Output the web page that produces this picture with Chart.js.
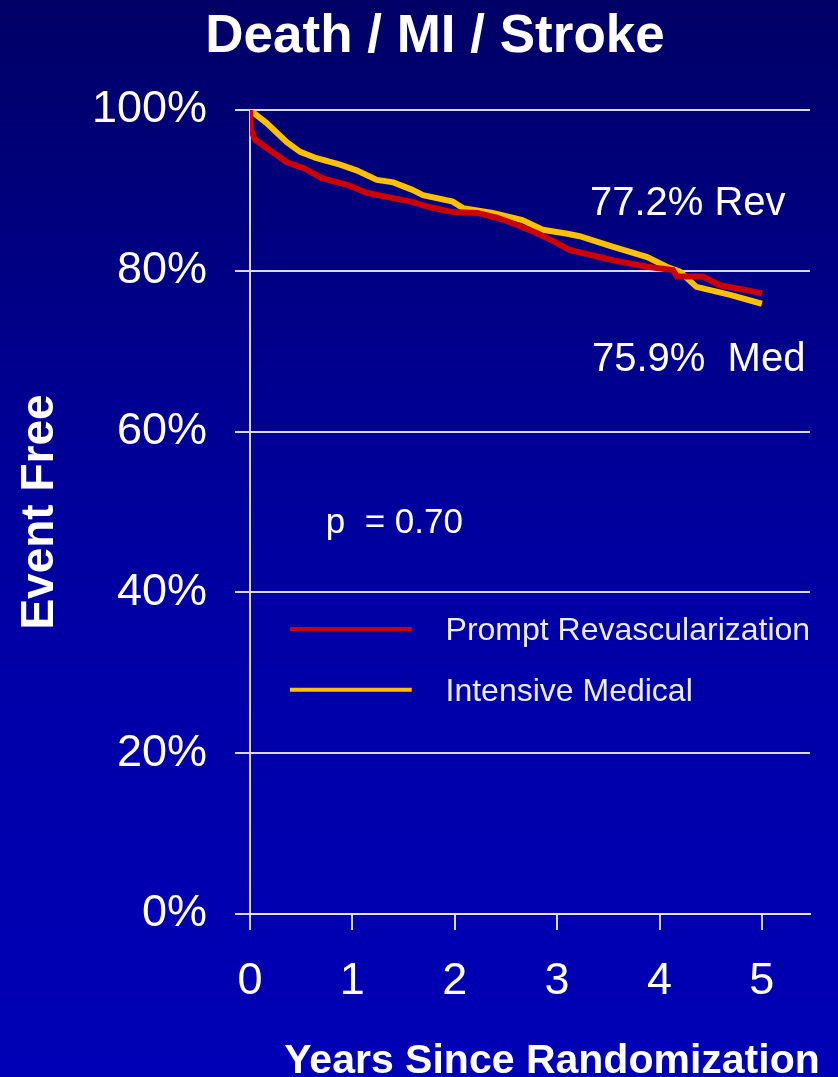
<!DOCTYPE html>
<html>
<head>
<meta charset="utf-8">
<title>Death / MI / Stroke</title>
<script src="https://cdn.jsdelivr.net/npm/chart.js@4/dist/chart.umd.min.js"></script>
<style>
  html, body { margin: 0; padding: 0; background: #000066; }
  #wrap { width: 838px; height: 1077px; }
</style>
</head>
<body>
<div id="wrap"><canvas id="chart" width="838" height="1077"></canvas></div>
<script>
// Kaplan-Meier event-free survival, years since randomization
const revYears = [0, 0.01, 0.05, 0.195, 0.36, 0.52, 0.71, 0.948, 1.14, 1.37, 1.57, 1.76, 1.98, 2.22, 2.41, 2.61, 2.80, 2.99, 3.12, 3.32, 3.55, 3.88, 4.13, 4.17, 4.42, 4.59, 4.85, 5.0];
const revPct   = [100, 97.5, 96.3, 95.0, 93.5, 92.8, 91.5, 90.7, 89.7, 89.1, 88.6, 87.9, 87.3, 87.2, 86.6, 85.7, 84.7, 83.5, 82.6, 82.0, 81.3, 80.5, 80.1, 79.3, 79.3, 78.2, 77.6, 77.2];

const medYears = [0, 0.16, 0.36, 0.49, 0.65, 0.88, 1.04, 1.24, 1.40, 1.58, 1.69, 1.98, 2.08, 2.37, 2.66, 2.86, 3.10, 3.22, 3.54, 3.88, 4.07, 4.20, 4.36, 4.69, 5.0];
const medPct   = [100, 98.4, 96.0, 94.8, 94.0, 93.2, 92.5, 91.3, 91.0, 90.1, 89.4, 88.6, 87.8, 87.2, 86.3, 85.1, 84.6, 84.3, 83.0, 81.7, 80.5, 79.9, 78.0, 77.0, 75.9];

const seriesNames = ['Prompt Revascularization', 'Intensive Medical'];
const finalRev = 77.2;
const finalMed = 75.9;
const pValue = '0.70';

const yTickValues = [0, 20, 40, 60, 80, 100];
const xTickValues = [0, 1, 2, 3, 4, 5];

const toPoints = (xs, ys) => xs.map((x, i) => ({ x: x, y: ys[i] }));

const FONT = "'Liberation Sans', Arial, sans-serif";
const gridColor = 'rgba(228,228,250,0.95)';

// Background gradient behind the whole canvas
const backdrop = {
  id: 'backdrop',
  beforeDraw(chart) {
    const { ctx, width, height } = chart;
    const g = ctx.createLinearGradient(0, 0, 0, height);
    g.addColorStop(0, '#000066');
    g.addColorStop(0.2, '#00007e');
    g.addColorStop(0.47, '#00009c');
    g.addColorStop(0.62, '#0000a8');
    g.addColorStop(1, '#0000b6');
    ctx.save();
    ctx.fillStyle = g;
    ctx.fillRect(0, 0, width, height);
    ctx.restore();
  }
};

// Title, x-axis caption, end-point labels, p value and legend
const annotations = {
  id: 'annotations',
  afterDraw(chart) {
    const { ctx } = chart;
    const xs = chart.scales.x, ys = chart.scales.y;
    const px = v => xs.getPixelForValue(v);
    const py = v => ys.getPixelForValue(v);
    ctx.save();
    ctx.fillStyle = '#ffffff';
    ctx.textBaseline = 'alphabetic';

    ctx.font = 'bold 53px ' + FONT;
    ctx.textAlign = 'center';
    ctx.fillText('Death / MI / Stroke', 435, 52);

    ctx.font = 'bold 41px ' + FONT;
    ctx.fillText('Years Since Randomization', 552, 1073);

    ctx.textAlign = 'left';
    ctx.font = '40px ' + FONT;
    ctx.fillText(finalRev.toFixed(1) + '% Rev', px(3.32), py(87.0));
    ctx.fillText(finalMed.toFixed(1) + '%  Med', px(3.34), py(67.5));

    ctx.font = '35px ' + FONT;
    ctx.fillText('p  = ' + pValue, px(0.74), py(47.4));

    // legend
    const rows = [35.45, 27.9];
    chart.data.datasets.forEach((ds, i) => {
      const y = py(rows[i]);
      ctx.strokeStyle = ds.borderColor;
      ctx.lineWidth = 4;
      ctx.beginPath();
      ctx.moveTo(px(0.39), y);
      ctx.lineTo(px(1.58), y);
      ctx.stroke();
      ctx.fillStyle = '#ececff';
      ctx.font = '32px ' + FONT;
      ctx.fillText(ds.label, px(1.91), y + 11);
    });
    ctx.restore();
  }
};

const keepTicks = wanted => scale => {
  scale.ticks = wanted.map(v => ({ value: v }));
};

new Chart(document.getElementById('chart'), {
  type: 'line',
  data: {
    datasets: [
      {
        label: seriesNames[0],
        data: toPoints(revYears, revPct),
        borderColor: '#cc0000',
        borderWidth: 6,
        pointRadius: 0,
        tension: 0,
        fill: false
      },
      {
        label: seriesNames[1],
        data: toPoints(medYears, medPct),
        borderColor: '#ffc000',
        borderWidth: 6,
        pointRadius: 0,
        tension: 0,
        fill: false
      }
    ]
  },
  options: {
    responsive: false,
    devicePixelRatio: 1,
    animation: false,
    layout: { padding: { top: 110, left: 0, right: 28, bottom: 0 } },
    plugins: {
      legend: { display: false },
      title: { display: false },
      tooltip: { enabled: false }
    },
    scales: {
      x: {
        type: 'linear',
        min: 0,
        max: 5.47,
        afterBuildTicks: keepTicks(xTickValues),
        afterFit: s => { s.height = 163; },
        grid: {
          drawOnChartArea: false,
          drawTicks: true,
          tickLength: 16,
          color: gridColor,
          lineWidth: 2
        },
        border: { display: true, color: gridColor, width: 2 },
        ticks: {
          color: '#ffffff',
          font: { family: FONT, size: 45 },
          padding: 25,
          maxRotation: 0,
          callback: v => String(v)
        },
        title: { display: false }
      },
      y: {
        type: 'linear',
        min: 0,
        max: 100,
        afterBuildTicks: keepTicks(yTickValues),
        afterFit: s => { s.width = 250; },
        grid: {
          drawOnChartArea: true,
          drawTicks: true,
          tickLength: 15,
          color: gridColor,
          lineWidth: 2
        },
        border: { display: true, color: gridColor, width: 2 },
        ticks: {
          color: '#ffffff',
          font: { family: FONT, size: 45 },
          padding: 28,
          callback: v => v + '%'
        },
        title: {
          display: true,
          text: 'Event Free',
          color: '#ffffff',
          font: { family: FONT, size: 46, weight: 'bold', lineHeight: 1 },
          padding: { top: 17, bottom: 0 }
        }
      }
    }
  },
  plugins: [backdrop, annotations]
});
</script>
</body>
</html>
